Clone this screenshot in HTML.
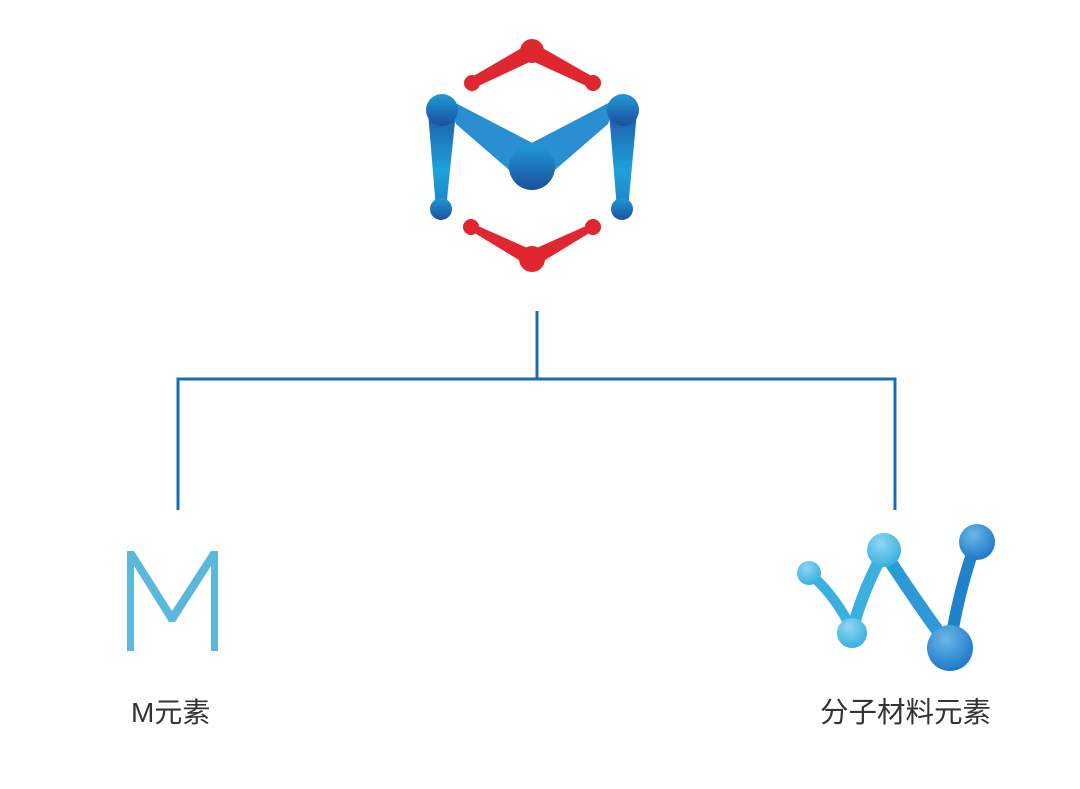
<!DOCTYPE html>
<html><head><meta charset="utf-8">
<style>
html,body{margin:0;padding:0;background:#fff;}
svg{display:block;}
text{font-family:"Liberation Sans","Noto Sans CJK SC",sans-serif;fill:#333;}
</style></head>
<body>
<svg width="1080" height="789" viewBox="0 0 1080 789" xmlns="http://www.w3.org/2000/svg">
<defs>
<linearGradient id="bl" x1="0" y1="0" x2="0" y2="1">
<stop offset="0" stop-color="#1e9ad8"/><stop offset="1" stop-color="#1d4f9c"/>
</linearGradient>
<linearGradient id="bar" x1="0" y1="0" x2="0" y2="1">
<stop offset="0" stop-color="#1d5aa6"/><stop offset="0.6" stop-color="#1ea2dc"/><stop offset="1" stop-color="#1d7fc5"/>
</linearGradient>
<radialGradient id="w1" cx="0.4" cy="0.3" r="0.7">
<stop offset="0" stop-color="#8fd6f2"/><stop offset="1" stop-color="#3ab0e0"/>
</radialGradient>
<radialGradient id="w2" cx="0.4" cy="0.3" r="0.7">
<stop offset="0" stop-color="#6ab8ea"/><stop offset="1" stop-color="#1f79c6"/>
</radialGradient>
</defs>
<g fill="#e0262f">
<polygon points="470,78 532,42 534,60 474,88"/>
<polygon points="595,78 532,42 530,60 591,88"/>
<circle cx="532" cy="51" r="12"/>
<circle cx="472" cy="83" r="8"/>
<circle cx="593" cy="83" r="8"/>
<polygon points="469,222 532,250 532,268 473,232"/>
<polygon points="595,222 532,250 532,268 591,232"/>
<circle cx="532" cy="259" r="13"/>
<circle cx="471" cy="227" r="8"/>
<circle cx="593" cy="227" r="8"/>
</g>
<polygon points="428,112 456,112 446,209 436,209" fill="url(#bar)"/>
<polygon points="609,112 637,112 628,209 617,209" fill="url(#bar)"/>
<polygon points="446,98 456,124 516,176 542,148" fill="#2a8fd2"/>
<polygon points="618,98 608,124 548,176 522,148" fill="#2a8fd2"/>
<circle cx="442" cy="110" r="16" fill="url(#bl)"/>
<circle cx="623" cy="110" r="16" fill="url(#bl)"/>
<circle cx="532" cy="167" r="23" fill="url(#bl)"/>
<circle cx="441" cy="209" r="11" fill="url(#bl)"/>
<circle cx="622" cy="209" r="11" fill="url(#bl)"/>
<g stroke="#1a6bb5" stroke-width="3" fill="none">
<line x1="537" y1="311" x2="537" y2="379"/>
<polyline points="178,510 178,379 895,379 895,510"/>
</g>
<polygon points="127,551 134,551 172,611 211,551 218,551 218,651 211,651 211,566 175,622 169,622 134,566 134,651 127,651" fill="#5bb8dc"/>
<text x="131" y="722" font-size="28">M元素</text>
<g fill="none" stroke-linecap="round">
<path d="M810,574 Q835,595 852,630" stroke="#3ab0e0" stroke-width="10"/>
<path d="M852,630 Q865,585 884,552" stroke="#3ab0e0" stroke-width="12"/>
<path d="M884,552 Q915,600 948,645" stroke="#2d9ad8" stroke-width="13"/>
<path d="M950,645 Q960,585 976,543" stroke="#1f82cb" stroke-width="12"/>
</g>
<circle cx="809" cy="573" r="12" fill="url(#w1)"/>
<circle cx="852" cy="633" r="15" fill="url(#w1)"/>
<circle cx="884" cy="550" r="17" fill="url(#w1)"/>
<circle cx="977" cy="542" r="18" fill="url(#w2)"/>
<circle cx="950" cy="648" r="23" fill="url(#w2)"/>
<text x="820" y="722" font-size="28.5">分子材料元素</text>
</svg>
</body></html>
